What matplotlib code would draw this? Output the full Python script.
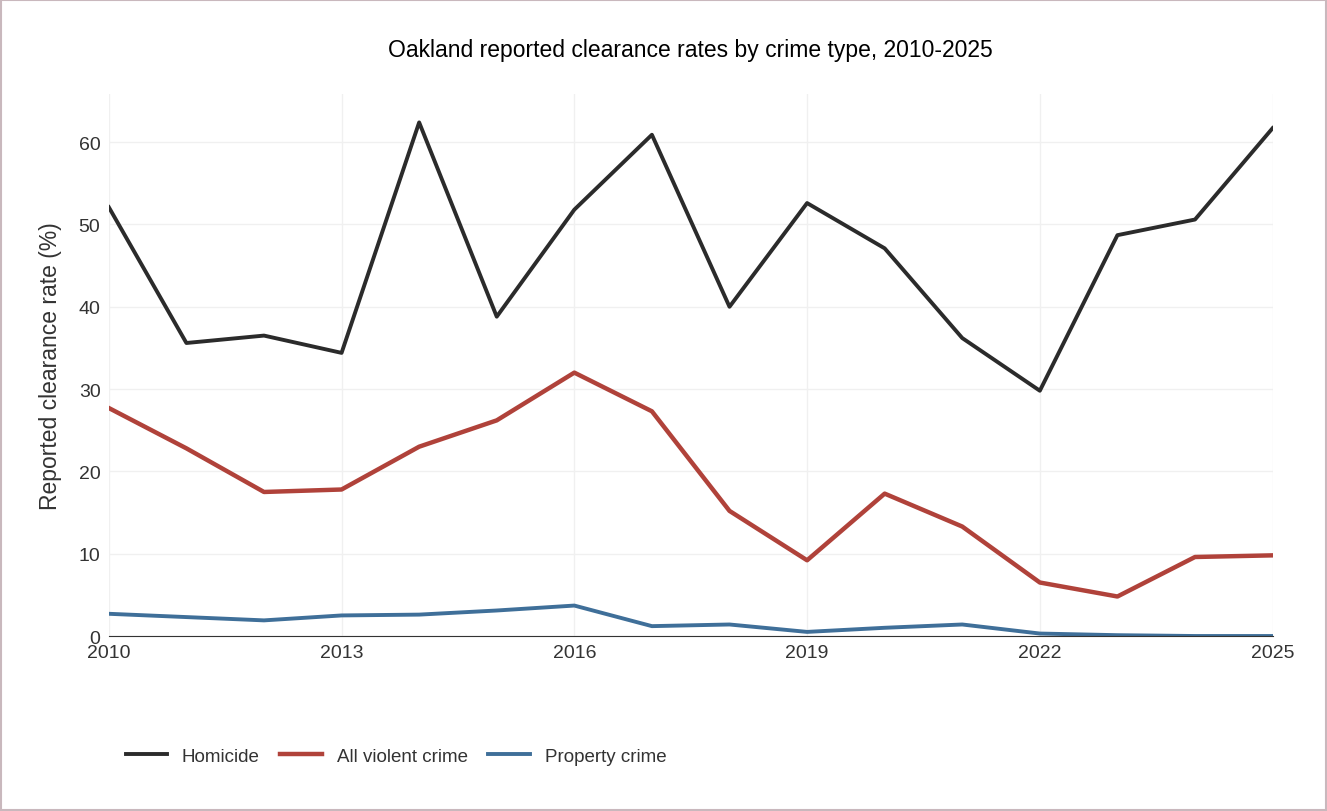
import pandas as pd
import matplotlib.pyplot as plt


# ============================================================
# DATA
# ============================================================

df = pd.DataFrame({

    "year": list(range(2010, 2026)),

    "homicide": [52.1, 35.6, 36.5, 34.4, 62.4, 38.8, 51.8, 60.9,
                 40.0, 52.6, 47.1, 36.2, 29.8, 48.7, 50.6, 61.7],

    "violent": [27.7, 22.8, 17.5, 17.8, 23.0, 26.2, 32.0, 27.3,
                15.2, 9.2, 17.3, 13.3, 6.5, 4.8, 9.6, 9.8],

    "property": [2.7, 2.3, 1.9, 2.5, 2.6, 3.1, 3.7, 1.2,
                 1.4, 0.5, 1.0, 1.4, 0.3, 0.1, 0.0, 0.0],
})

plt.rcParams["font.family"] = ["Liberation Sans", "DejaVu Sans"]


# ============================================================
# PLOT
# CLEARANCE RATES BY CRIME TYPE
# ============================================================

fig = plt.figure(figsize=(13.27, 8.12), dpi=100)

fig.patches.append(
    plt.Rectangle((0.001, 0.001), 0.998, 0.998, transform=fig.transFigure,
                  fill=False, edgecolor="#c9b8bd", linewidth=1.5)
)

plt.axes([0.082, 0.2155, 0.877, 0.668])

plt.plot(df["year"], df["homicide"], color="#2b2b2b",
         linewidth=2.8, label="Homicide")
plt.plot(df["year"], df["violent"], color="#b0423a",
         linewidth=3.2, label="All violent crime")
plt.plot(df["year"], df["property"], color="#3f6f99",
         linewidth=2.8, label="Property crime")

plt.xlim(2010, 2025)
plt.ylim(0, 65.9)

plt.xticks([2010, 2013, 2016, 2019, 2022, 2025], fontsize=14,
           color="#333333")
plt.yticks([0, 10, 20, 30, 40, 50, 60], fontsize=14, color="#333333")

plt.ylabel("Reported clearance rate (%)", fontsize=16.5,
           color="#333333", labelpad=12)

plt.title("Oakland reported clearance rates by crime type, 2010-2025",
          fontsize=16.5, pad=27)

plt.grid(True, color="#f0f0f0", linewidth=1)
plt.tick_params(length=0, pad=6)

ax = plt.gca()
for side in ["top", "right", "left"]:
    ax.spines[side].set_visible(False)
ax.spines["bottom"].set_color("#333333")

plt.legend(loc="upper left", bbox_to_anchor=(0.0, -0.175), ncol=3,
           frameon=False, fontsize=13.5, handlelength=2.2,
           columnspacing=1.1, labelcolor="#333333")

plt.savefig("out.png", dpi=100)
